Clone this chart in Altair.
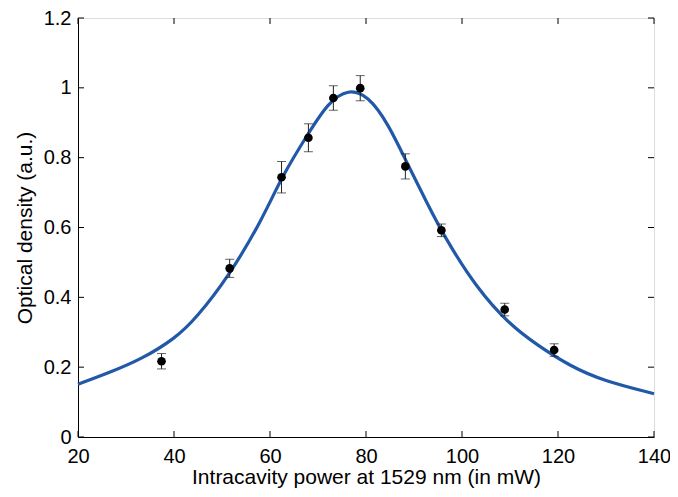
import altair as alt
import pandas as pd

# measured data points
power = [37.4, 51.6, 62.4, 68.0, 73.2, 78.8, 88.2, 95.7, 108.9, 119.2]
density = [0.217, 0.483, 0.744, 0.857, 0.971, 0.999, 0.775, 0.592, 0.365, 0.249]
err = [0.022, 0.026, 0.045, 0.040, 0.035, 0.036, 0.036, 0.018, 0.018, 0.018]

# fitted curve
fit_x = [20, 26.5, 33.4, 40.3, 44.55, 51.45, 58.3, 62.5, 68, 72.1, 76.3, 80.4,
         84.6, 88.7, 92.8, 96.3, 103.2, 110.1, 115.6, 122.5, 129.4, 140]
fit_y = [0.151, 0.184, 0.224, 0.283, 0.339, 0.461, 0.621, 0.747, 0.870, 0.958,
         0.997, 0.978, 0.898, 0.780, 0.668, 0.574, 0.423, 0.320, 0.264, 0.203,
         0.161, 0.124]

x_ticks = [20, 40, 60, 80, 100, 120, 140]
y_ticks = [0, 0.2, 0.4, 0.6, 0.8, 1.0, 1.2]

pts = pd.DataFrame({"x": power, "y": density,
                    "lo": [d - e for d, e in zip(density, err)],
                    "hi": [d + e for d, e in zip(density, err)]})
curve = pd.DataFrame({"x": fit_x, "y": fit_y})
xt = pd.DataFrame({"v": x_ticks})
yt = pd.DataFrame({"v": y_ticks})

W, H = 576, 419
FONT = "Liberation Sans"

xscale = alt.Scale(domain=[20, 140], nice=False, zero=False)
yscale = alt.Scale(domain=[0, 1.2], nice=False)

xaxis = alt.Axis(values=x_ticks, ticks=False, grid=False, labelFontSize=20,
                 labelPadding=9, labelFlush=False,
                 title="Intracavity power at 1529 nm (in mW)",
                 titleFontSize=21, titleFontWeight="normal", titlePadding=0,
                 labelColor="black", titleColor="black", domainColor="black")
yaxis = alt.Axis(values=y_ticks, ticks=False, grid=False, labelFontSize=20,
                 labelPadding=7, labelFlush=False, format=".1~f",
                 title="Optical density (a.u.)",
                 titleFontSize=21, titleFontWeight="normal", titlePadding=8,
                 labelColor="black", titleColor="black", domainColor="black")

line = alt.Chart(curve).mark_line(color="#2158a8", strokeWidth=3.2,
                                  interpolate="basis").encode(
    x=alt.X("x:Q", scale=xscale, axis=xaxis),
    y=alt.Y("y:Q", scale=yscale, axis=yaxis),
)

bars = alt.Chart(pts).mark_rule(color="#222222", strokeWidth=1).encode(
    x=alt.X("x:Q", scale=xscale), y=alt.Y("lo:Q", scale=yscale), y2="hi:Q")
cap_lo = alt.Chart(pts).mark_tick(color="#222222", thickness=1, size=9, orient="horizontal").encode(
    x=alt.X("x:Q", scale=xscale), y=alt.Y("lo:Q", scale=yscale))
cap_hi = alt.Chart(pts).mark_tick(color="#222222", thickness=1, size=9, orient="horizontal").encode(
    x=alt.X("x:Q", scale=xscale), y=alt.Y("hi:Q", scale=yscale))
dots = alt.Chart(pts).mark_circle(color="black", size=75, opacity=1).encode(
    x=alt.X("x:Q", scale=xscale), y=alt.Y("y:Q", scale=yscale))

# inward ticks on all four sides
tb = alt.Chart(xt).mark_rule(color="black").encode(
    x=alt.X("v:Q", scale=xscale), y=alt.value(H), y2=alt.value(H - 6))
tt = alt.Chart(xt).mark_rule(color="black").encode(
    x=alt.X("v:Q", scale=xscale), y=alt.value(0), y2=alt.value(6))
tl = alt.Chart(yt).mark_rule(color="black").encode(
    y=alt.Y("v:Q", scale=yscale), x=alt.value(0), x2=alt.value(6))
tr = alt.Chart(yt).mark_rule(color="black").encode(
    y=alt.Y("v:Q", scale=yscale), x=alt.value(W), x2=alt.value(W - 6))

chart = alt.layer(line, bars, cap_lo, cap_hi, dots, tb, tt, tl, tr).properties(
    width=W, height=H,
    autosize=alt.AutoSizeParams(type="none"),
    padding={"left": 70, "top": 10, "right": 16, "bottom": 52},
).configure_view(stroke="black", strokeWidth=1).configure(
    font=FONT, background="white"
)

chart.save("out.html", embed_options={"renderer": "svg", "actions": False})
